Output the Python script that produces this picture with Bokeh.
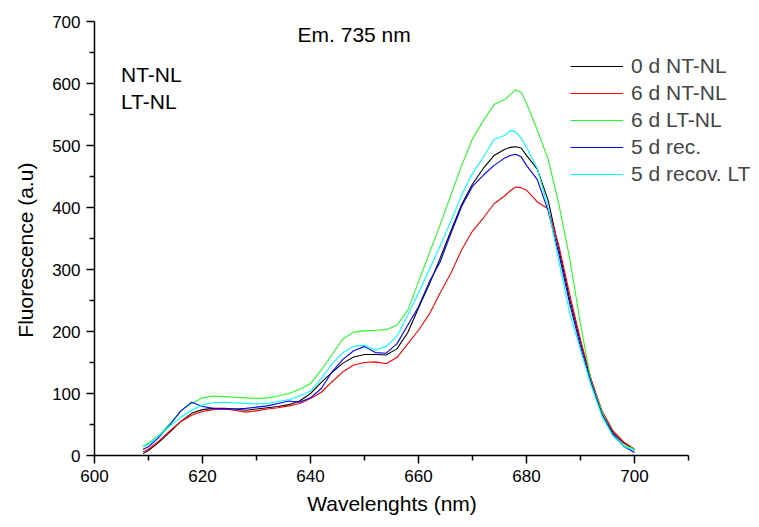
from bokeh.plotting import figure
from bokeh.models import Range1d, FixedTicker, Legend, LegendItem, Label
from bokeh.embed import file_html
from bokeh.resources import INLINE

wavelength = [609, 610, 612, 614, 616, 618, 620, 622, 624, 626, 628, 630, 632, 634, 636, 638,
              640, 642, 644, 646, 648, 650, 652, 654, 656, 658, 660, 662, 664, 666, 668, 670,
              672, 674, 676, 677, 678, 679, 680, 682, 684, 686, 688, 690, 692, 694, 696, 698, 700]

nt0 = [3, 8, 22, 38, 55, 68, 74, 76, 76, 75, 73, 75, 77, 79, 82, 88,
       100, 118, 134, 149, 159, 163, 163, 162, 172, 198, 238, 276, 318, 362, 405, 438,
       463, 484, 494, 497, 498, 496, 484, 462, 412, 333, 252, 183, 121, 69, 37, 20, 10]

nt6 = [6, 10, 24, 40, 55, 65, 71, 74, 75, 73, 70, 72, 75, 77, 80, 84,
       92, 102, 119, 135, 146, 150, 151, 148, 158, 180, 202, 228, 262, 294, 332, 362,
       383, 406, 419, 427, 433, 432, 428, 409, 398, 338, 260, 187, 122, 72, 40, 22, 10]

lt6 = [15, 20, 33, 52, 72, 84, 93, 96, 95, 94, 93, 92, 93, 96, 100, 107,
       116, 138, 163, 188, 199, 201, 202, 203, 210, 234, 280, 326, 372, 420, 468, 511,
       540, 566, 574, 582, 590, 586, 568, 525, 478, 405, 318, 212, 118, 70, 33, 16, 11]

rec5 = [10, 14, 30, 50, 72, 86, 79, 76, 75, 75, 76, 78, 80, 84, 88, 86,
        93, 108, 135, 155, 169, 176, 166, 165, 180, 210, 240, 280, 312, 358, 402, 434,
        452, 468, 480, 484, 486, 482, 468, 445, 395, 325, 245, 176, 116, 66, 34, 15, 5]

recLT5 = [14, 18, 32, 48, 62, 73, 82, 85, 86, 85, 84, 83, 84, 87, 90, 96,
          104, 124, 148, 166, 176, 178, 170, 176, 192, 226, 262, 300, 338, 378, 420, 455,
          481, 510, 516, 524, 522, 512, 497, 463, 400, 313, 230, 170, 112, 63, 32, 15, 8]

series_names = ["0 d NT-NL", "6 d NT-NL", "6 d LT-NL", "5 d rec.", "5 d recov. LT"]
series_values = [nt0, nt6, lt6, rec5, recLT5]
series_colors = ["#000000", "#ff0000", "#22ff22", "#0000ff", "#00ffff"]

x_major = [600, 620, 640, 660, 680, 700]
x_minor = [610, 630, 650, 670, 690, 710]
y_major = [0, 100, 200, 300, 400, 500, 600, 700]
y_minor = [50, 150, 250, 350, 450, 550, 650]

FONT = "Liberation Sans"

# frame spans the full right side so the legend is not clipped; axis drawn to 710 only
p = figure(width=759, height=527, output_backend="svg", toolbar_location=None,
           x_range=Range1d(600, 723.15), y_range=Range1d(0, 700),
           min_border_left=94, min_border_right=0, min_border_top=21, min_border_bottom=72)
p.outline_line_color = None
p.xgrid.visible = False
p.ygrid.visible = False
p.background_fill_color = "white"
p.border_fill_color = "white"

items = []
for name, vals, col in zip(series_names, series_values, series_colors):
    r = p.line(wavelength, vals, line_color=col, line_width=1.1)
    items.append(LegendItem(label=name, renderers=[r]))

for ax in (p.xaxis[0], p.yaxis[0]):
    ax.axis_line_width = 1.5
    ax.axis_line_color = "black"
    ax.major_tick_line_width = 1.5
    ax.minor_tick_line_width = 1.5
    ax.major_tick_out = 8
    ax.major_tick_in = 0
    ax.minor_tick_out = 5
    ax.minor_tick_in = 0
    ax.major_label_text_font = FONT
    ax.major_label_text_font_size = "17px"
    ax.major_label_text_color = "black"
    ax.axis_label_text_font = FONT
    ax.axis_label_text_font_size = "21px"
    ax.axis_label_text_font_style = "normal"
    ax.axis_label_text_color = "black"

p.xaxis[0].bounds = (600, 710)
p.xaxis[0].ticker = FixedTicker(ticks=x_major, minor_ticks=x_minor)
p.yaxis[0].ticker = FixedTicker(ticks=y_major, minor_ticks=y_minor)
# trailing no-break spaces shift the centred labels to where the reference has them
p.xaxis[0].axis_label = "Wavelenghts (nm)" + "\u00a0" * 12
p.yaxis[0].axis_label = "Fluorescence (a.u)" + "\u00a0" * 4
p.xaxis[0].major_label_standoff = 6
p.yaxis[0].major_label_standoff = 6
p.xaxis[0].axis_label_standoff = 7
p.yaxis[0].axis_label_standoff = 12

legend = Legend(items=items, location=(476, 269), padding=0, margin=0, spacing=3,
                glyph_width=53, glyph_height=20, label_height=20, label_standoff=8,
                label_text_font=FONT, label_text_font_size="21px",
                border_line_alpha=0, background_fill_alpha=0)
p.add_layout(legend, "center")

for txt, x, y in [("Em. 735 nm", 637.6, 679), ("NT-NL", 604.9, 614), ("LT-NL", 604.9, 571)]:
    p.add_layout(Label(x=x, y=y, text=txt, text_font=FONT, text_font_size="21px",
                       text_baseline="middle", text_align="left", text_color="black"))

open("out.html", "w").write(file_html(p, INLINE))
